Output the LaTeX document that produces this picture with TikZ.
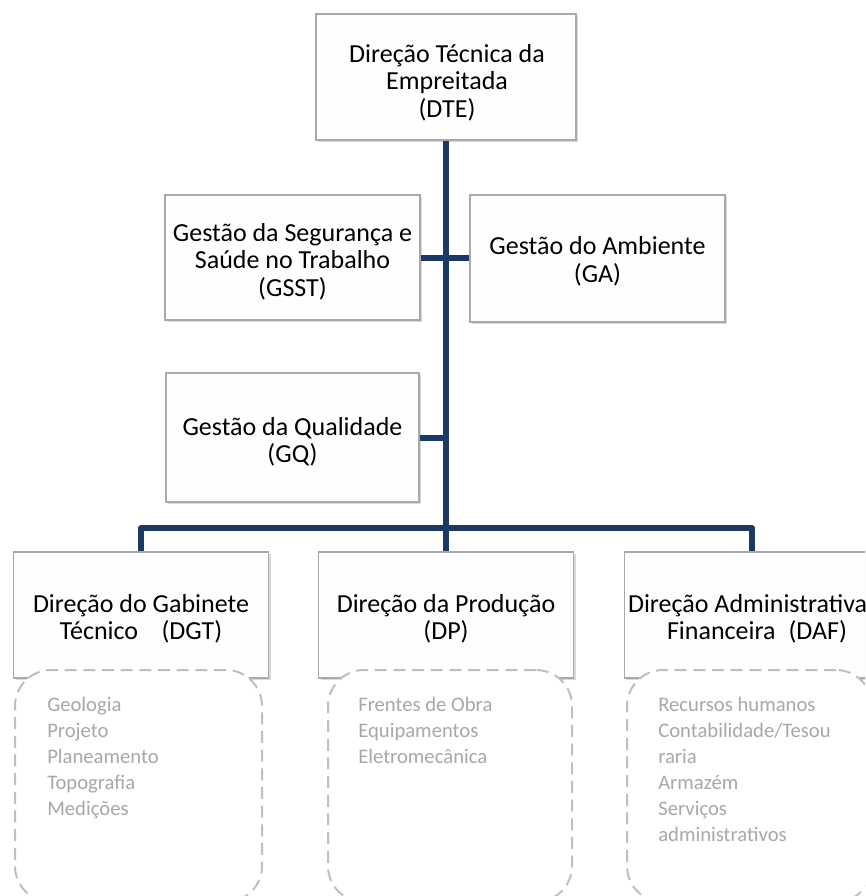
\documentclass[tikz,border=0pt]{standalone}
\usepackage{fontspec}
\setmainfont{Carlito}
\usetikzlibrary{shadows}

\definecolor{trunkblue}{HTML}{1B3A63}
\definecolor{boxedge}{HTML}{A9A9A9}
\definecolor{boxfill}{HTML}{FEFEFE}
\definecolor{listgray}{HTML}{A8A8A8}
\definecolor{dashgray}{HTML}{BFBFBF}

\newcommand{\boxfont}{\fontsize{19.5}{20.6}\selectfont}
\newcommand{\listfont}{\fontsize{15.5}{19.5}\selectfont}

\begin{document}
\begin{tikzpicture}[x=0.75pt, y=-0.75pt,
  orgbox/.style={draw=boxedge, line width=1.1pt, fill=boxfill, inner sep=0pt,
    drop shadow={shadow xshift=1.6pt, shadow yshift=-1.6pt, opacity=0.3}},
  boxlabel/.style={inner sep=0pt, align=center, font=\boxfont, text=black},
  listbox/.style={draw=dashgray, line width=1.5pt, dash pattern=on 9pt off 5pt,
    rounded corners=27pt, fill=white, inner sep=0pt,
    minimum height=232*0.75pt},
  listtext/.style={inner sep=0pt, align=left, anchor=north west,
    font=\listfont, text=listgray},
  link/.style={draw=trunkblue, line width=4.5pt, line join=round}
]
\useasboundingbox (0,0) rectangle (865,896);
\clip (0,0) rectangle (865,896);

% top management and staff units
\node[orgbox, minimum width=260*0.75pt, minimum height=126*0.75pt] (dte) at (446,77) {};
\node[orgbox, minimum width=255*0.75pt, minimum height=125*0.75pt] (gsst) at (292.5,257.5) {};
\node[orgbox, minimum width=255*0.75pt, minimum height=127*0.75pt] (ga) at (597.5,258.5) {};
\node[orgbox, minimum width=253*0.75pt, minimum height=129*0.75pt] (gq) at (292.5,437.5) {};

\node[boxlabel] (dtelabel) at (447,82.5) {Direção Técnica da\\Empreitada\\(DTE)};
\node[boxlabel] (gsstlabel) at (292.5,261.5) {Gestão da Segurança e\\Saúde no Trabalho\\(GSST)};
\node[boxlabel] (galabel) at (597.5,261.5) {Gestão do Ambiente\\(GA)};
\node[boxlabel] (gqlabel) at (292.5,442) {Gestão da Qualidade\\(GQ)};

% directorates
\node[orgbox, minimum width=255*0.75pt, minimum height=126*0.75pt] (dgt) at (141,615) {};
\node[orgbox, minimum width=255*0.75pt, minimum height=126*0.75pt] (dp) at (446,615) {};
\node[orgbox, minimum width=255*0.75pt, minimum height=126*0.75pt] (daf) at (752,615) {};

\node[boxlabel] (dgtlabel) at (141,619) {Direção do Gabinete\\Técnico\hspace{0.9em}(DGT)};
\node[boxlabel] (dplabel) at (446,619) {Direção da Produção\\(DP)};
\node[boxlabel] (daflabel) at (757,619) {Direção Administrativa e\\Financeira\hspace{0.5em}(DAF)};

% connectors
\coordinate (bus) at (446,528);
\draw[link] (dte.south) -- (dp.north);
\draw[link] (gsst.east) -- (gsst.east -| ga.west);
\draw[link] (gq.east) -- (gq.east -| dte.south);
\draw[link] (dgt.north) |- (bus) -| (daf.north);

% dashed lists of sections
\node[listbox, minimum width=247*0.75pt] (dgtlist) at (138.5,786) {};
\node[listbox, minimum width=244*0.75pt] (dplist) at (450,786) {};
\node[listbox, minimum width=245*0.75pt] (daflist) at (749.5,786) {};

\node[listtext] (dgtitems) at (47,693)
  {\strut Geologia\\Projeto\\Planeamento\\Topografia\\Medições};
\node[listtext] (dpitems) at (358,693)
  {\strut Frentes de Obra\\Equipamentos\\Eletromecânica};
\node[listtext] (dafitems) at (658,693)
  {\strut Recursos humanos\\Contabilidade/Tesou\\raria\\Armazém\\Serviços\\administrativos};
\end{tikzpicture}
\end{document}
